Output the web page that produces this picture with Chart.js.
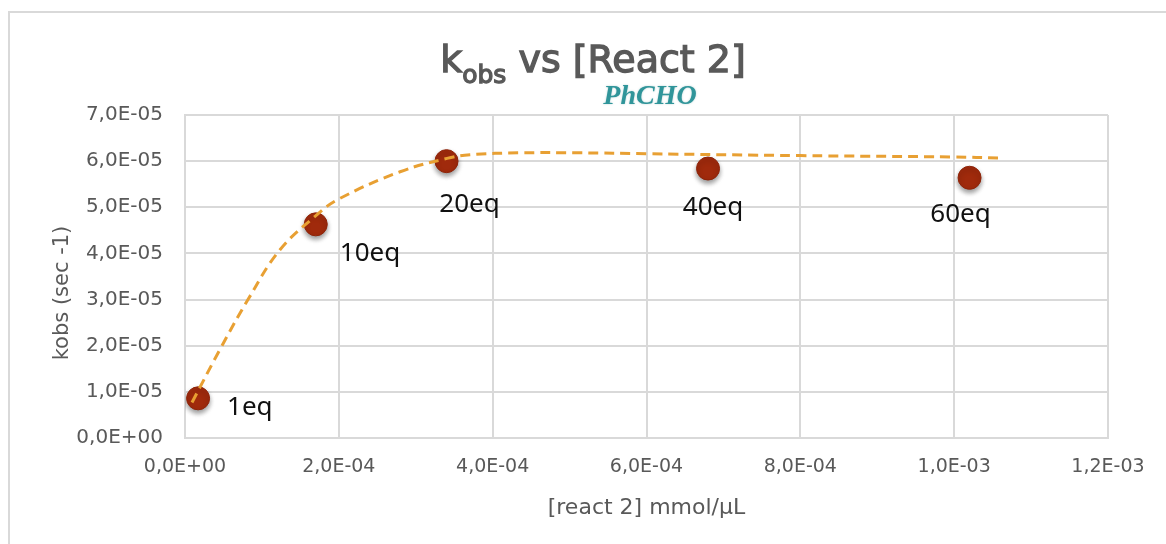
<!DOCTYPE html>
<html>
<head>
<meta charset="utf-8">
<script src="https://cdn.jsdelivr.net/npm/chart.js@4.4.1/dist/chart.umd.min.js"></script>
<style>
  html, body { margin: 0; padding: 0; background: #fff; overflow: hidden; }
  #frame {
    position: absolute; left: 8px; top: 11px; width: 1200px; height: 600px;
    border: 2px solid #d9d9d9; box-sizing: border-box;
  }
  #myChart { position: absolute; left: 0; top: 0; }
</style>
</head>
<body>
<div id="frame"></div>
<canvas id="myChart" width="1166" height="544"></canvas>
<script>
// measured points, one per equivalent of react 2
var eqLabels = ["1eq", "10eq", "20eq", "40eq", "60eq"];
var concValues = [1.7e-5, 1.7e-4, 3.4e-4, 6.8e-4, 1.02e-3];
var kobsValues = [8.6e-6, 4.63e-5, 6.0e-5, 5.84e-5, 5.64e-5];

// dashed trend line
var trendX = [9.1e-6, 4.55e-5, 8.19e-5, 1.235e-4, 1.717e-4, 2.0e-4, 2.796e-4, 3.407e-4, 3.706e-4, 4.356e-4, 5.137e-4, 6.0e-4, 8.0e-4, 1.0e-3, 1.057e-3];
var trendY = [7.7e-6, 1.92e-5, 3.0e-5, 4.08e-5, 4.84e-5, 5.18e-5, 5.77e-5, 6.06e-5, 6.14e-5, 6.18e-5, 6.18e-5, 6.16e-5, 6.12e-5, 6.09e-5, 6.07e-5];

// label offsets from the marker centre: [dx, dy, align]
var labelOffsets = [[29, 9, "left"], [24, 29, "left"], [23, 43, "center"], [5, 39, "center"], [-9, 37, "center"]];

function sciLabel(v) {
  if (Math.abs(v) < 1e-12) return "0,0E+00";
  var parts = v.toExponential(1).split("e");
  var exp = parts[1];
  var sign = exp[0] === "-" ? "-" : "+";
  var digits = exp.replace(/[+-]/, "");
  if (digits.length < 2) digits = "0" + digits;
  return parts[0].replace(".", ",") + "E" + sign + digits;
}

var gray = "#595959";
var gridColor = "#d9d9d9";

// draws text a little heavier than the regular face
function heavyText(ctx, txt, x, y) {
  ctx.fillText(txt, x, y);
  ctx.strokeText(txt, x, y);
}

var titlePlugin = {
  id: "titleText",
  afterDraw: function(chart) {
    var ctx = chart.ctx;
    ctx.save();
    ctx.fillStyle = gray;
    ctx.strokeStyle = gray;
    ctx.lineWidth = 1.3;
    ctx.textBaseline = "alphabetic";
    var big = "38px 'DejaVu Sans'";
    var small = "25px 'DejaVu Sans'";
    ctx.font = big;
    var wK = ctx.measureText("k").width;
    var wRest = ctx.measureText(" vs [React 2]").width;
    ctx.font = small;
    var wSub = ctx.measureText("obs").width;
    var total = wK + wSub + wRest;
    var x = 593 - total / 2;
    ctx.font = big;
    heavyText(ctx, "k", x, 72);
    ctx.font = small;
    heavyText(ctx, "obs", x + wK, 83);
    ctx.font = big;
    heavyText(ctx, " vs [React 2]", x + wK + wSub, 72);

    ctx.font = "bold italic 28px 'Liberation Serif'";
    ctx.textAlign = "center";
    ctx.shadowColor = "rgba(40,120,120,0.35)";
    ctx.shadowBlur = 2;
    ctx.fillStyle = "#30959a";
    ctx.fillText("PhCHO", 650, 104);
    ctx.restore();

    // y axis title
    ctx.save();
    ctx.translate(63, 293);
    ctx.rotate(-Math.PI / 2);
    ctx.font = "21px 'DejaVu Sans'";
    ctx.fillStyle = gray;
    ctx.textAlign = "center";
    ctx.textBaseline = "middle";
    ctx.fillText("kobs (sec -1)", 0, 0);
    ctx.restore();
  }
};

var pointStyling = {
  id: "pointStyling",
  beforeDatasetDraw: function(chart, args) {
    if (args.index !== 1) return;
    var ctx = chart.ctx;
    ctx.save();
    ctx.shadowColor = "rgba(0,0,0,0.4)";
    ctx.shadowBlur = 5;
    ctx.shadowOffsetY = 3;
  },
  afterDatasetDraw: function(chart, args) {
    if (args.index !== 1) return;
    chart.ctx.restore();
  },
  afterDatasetsDraw: function(chart) {
    var ctx = chart.ctx;
    var meta = chart.getDatasetMeta(1);
    ctx.save();
    ctx.font = "26px 'Noto Sans'";
    ctx.fillStyle = "#111";
    ctx.textBaseline = "middle";
    meta.data.forEach(function(pt, i) {
      var off = labelOffsets[i];
      ctx.textAlign = off[2];
      ctx.fillText(eqLabels[i], pt.x + off[0], pt.y + off[1]);
    });
    ctx.restore();
  }
};

var pointData = concValues.map(function(x, i) { return { x: x, y: kobsValues[i] }; });
var trendData = trendX.map(function(x, i) { return { x: x, y: trendY[i] }; });

var ctx = document.getElementById("myChart").getContext("2d");
var chart = new Chart(ctx, {
  type: "scatter",
  data: {
    datasets: [
      {
        label: "trend",
        data: trendData,
        showLine: true,
        borderColor: "#e8a033",
        borderWidth: 3,
        borderDash: [10, 6],
        pointRadius: 0,
        tension: 0.4,
        fill: false,
        order: 0
      },
      {
        label: "kobs",
        data: pointData,
        backgroundColor: "#a02a0c",
        borderColor: "#8e2409",
        borderWidth: 1,
        pointRadius: 11.5,
        pointHoverRadius: 11.5,
        order: 1
      }
    ]
  },
  options: {
    responsive: false,
    animation: false,
    devicePixelRatio: 1,
    layout: { padding: { left: 48, right: 58, top: 115, bottom: 0 } },
    plugins: {
      legend: { display: false },
      title: { display: false },
      tooltip: { enabled: false }
    },
    scales: {
      x: {
        type: "linear",
        min: 0,
        max: 0.0012,
        afterFit: function(scale) { scale.height = 106; },
        border: { color: gridColor, width: 2 },
        grid: { color: gridColor, lineWidth: 2, drawTicks: false },
        ticks: {
          stepSize: 0.0002,
          padding: 18,
          color: gray,
          font: { family: "'DejaVu Sans'", size: 19 },
          callback: function(v) { return sciLabel(v); }
        },
        title: {
          display: true,
          text: "[react 2] mmol/\u00b5L",
          color: gray,
          font: { family: "'DejaVu Sans'", size: 22 },
          padding: { top: 0, bottom: 23 }
        }
      },
      y: {
        type: "linear",
        min: 0,
        max: 7e-5,
        afterFit: function(scale) { scale.width = 137; },
        border: { color: gridColor, width: 2 },
        grid: { color: gridColor, lineWidth: 2, drawTicks: false },
        ticks: {
          stepSize: 1e-5,
          padding: 22,
          color: gray,
          font: { family: "'DejaVu Sans'", size: 20 },
          callback: function(v) { return sciLabel(v); }
        }
      }
    }
  },
  plugins: [titlePlugin, pointStyling]
});
</script>
</body>
</html>
